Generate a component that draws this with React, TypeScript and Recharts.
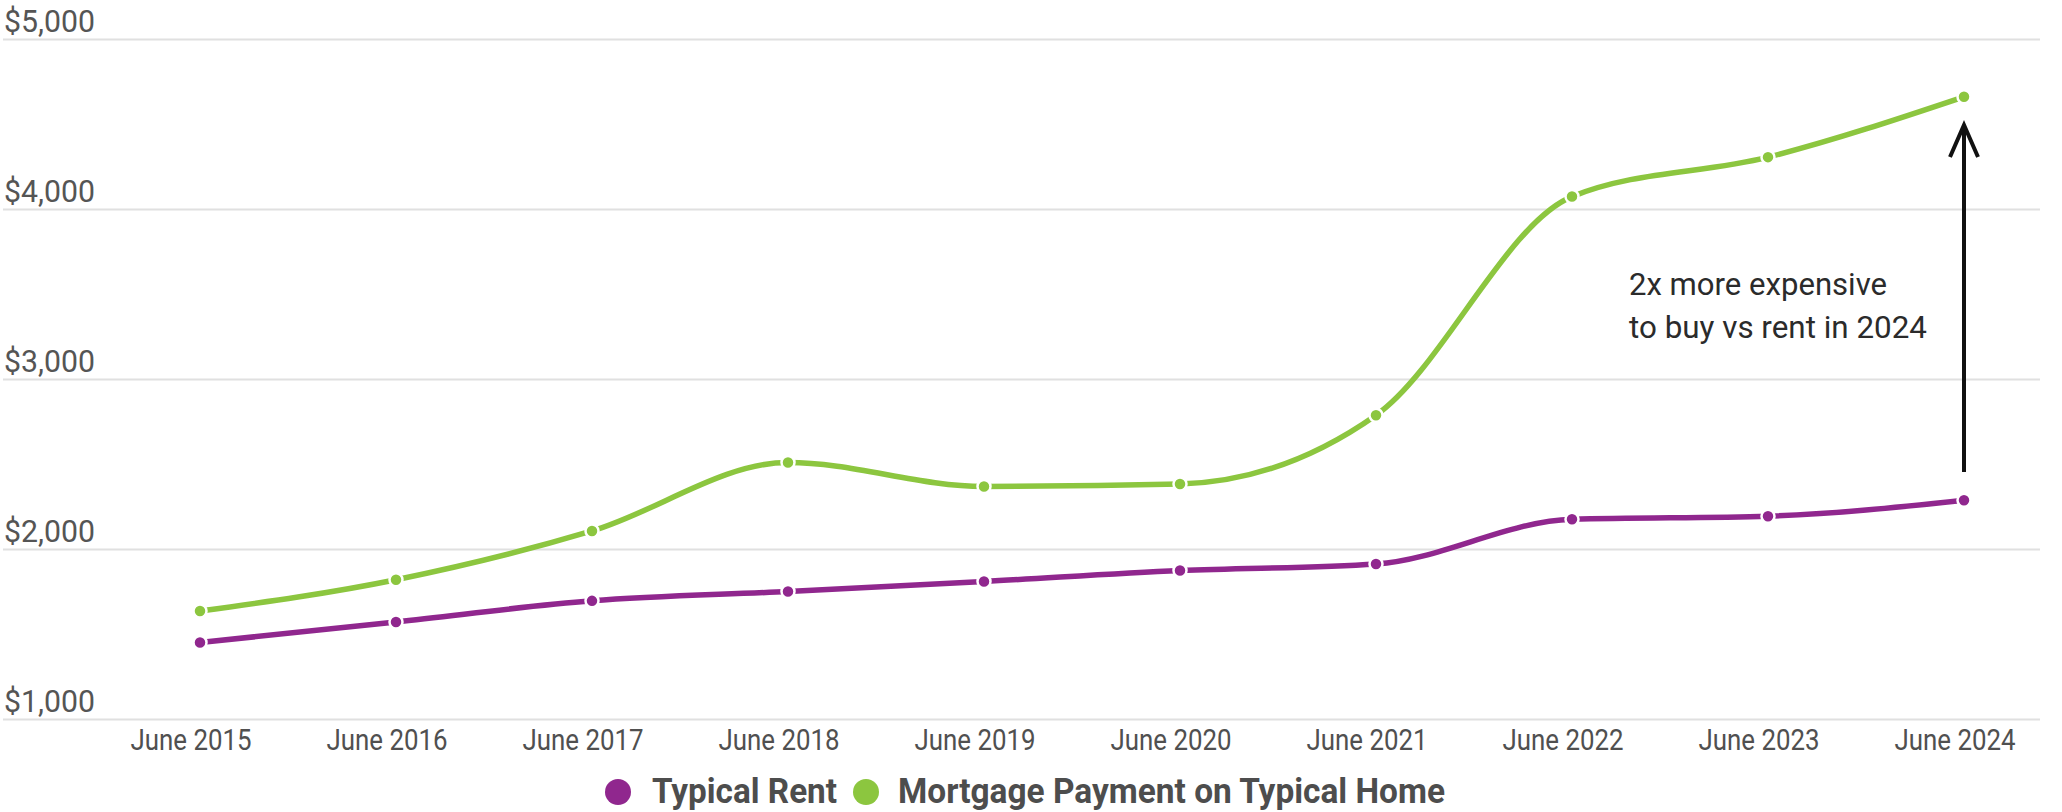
import React from 'react';
import { LineChart, Line, XAxis, YAxis, CartesianGrid, ReferenceLine } from 'recharts';

const months = ['June 2015', 'June 2016', 'June 2017', 'June 2018', 'June 2019', 'June 2020', 'June 2021', 'June 2022', 'June 2023', 'June 2024'];
const typicalRent = [1453, 1574, 1698, 1753, 1812, 1876, 1915, 2178, 2196, 2290];
const mortgagePayment = [1638, 1822, 2109, 2512, 2371, 2385, 2790, 4076, 4308, 4663];
const yTicks = [1000, 2000, 3000, 4000, 5000];
const seriesNames = ['Typical Rent', 'Mortgage Payment on Typical Home'];
const seriesColors = ['#90278E', '#8CC63F'];
const annotationLines = ['2x more expensive', 'to buy vs rent in 2024'];
const arrowMonth = 'June 2024';
const arrowFrom = 2456;
const arrowTo = 4497;

const data = months.map((m, i) => ({ month: m, rent: typicalRent[i], mortgage: mortgagePayment[i] }));

const FONT = 'Roboto, "Noto Sans", sans-serif';

const XTick = (props: any) => {
  const { x, y, payload } = props;
  return (
    <text x={x - 9} y={y + 30.5} textAnchor="middle" fontFamily={FONT} fontSize={29.5} fill="#505050"
      textLength={121} lengthAdjust="spacingAndGlyphs">
      {payload.value}
    </text>
  );
};

const YTick = (props: any) => {
  const { y, payload } = props;
  const label = '$' + Number(payload.value).toLocaleString('en-US');
  return (
    <text x={4} y={y - 7.5} textAnchor="start" fontFamily={FONT} fontSize={32} fill="#555555"
      textLength={91} lengthAdjust="spacingAndGlyphs">
      {label}
    </text>
  );
};

const ArrowShape = (props: any) => {
  const { x1, y1, x2, y2 } = props;
  return (
    <g>
      <line x1={x1} y1={y1} x2={x2} y2={y2 + 2} stroke="#111" strokeWidth={4} />
      <polyline points={`${x2 - 14},${y2 + 32} ${x2},${y2} ${x2 + 14},${y2 + 32}`} fill="none" stroke="#111" strokeWidth={4} />
      <text x={x2 - 335} y={y2 + 170} fontFamily={FONT} fontSize={31} fill="#2b2b2b" textLength={258} lengthAdjust="spacingAndGlyphs">
        {annotationLines[0]}
      </text>
      <text x={x2 - 335} y={y2 + 213} fontFamily={FONT} fontSize={31} fill="#2b2b2b" textLength={298} lengthAdjust="spacingAndGlyphs">
        {annotationLines[1]}
      </text>
    </g>
  );
};

const legendLayout = [
  { cx: 618, tx: 652, len: 185 },
  { cx: 866, tx: 898, len: 547 },
];

export default function App() {
  return (
    <div style={{ position: 'absolute', left: 0, top: 0, width: 2062, height: 812, background: '#fff' }}>
      <LineChart width={2062} height={812} data={data} margin={{ top: 39.5, right: 22, bottom: 62.5, left: 2 }}>
        <CartesianGrid vertical={false} stroke="#e0e0e0" strokeWidth={2} />
        <XAxis dataKey="month" height={30} axisLine={false} tickLine={false} tickSize={0} tickMargin={0}
          padding={{ left: 197, right: 76 }} tick={<XTick />} interval={0} />
        <YAxis domain={[1000, 5000]} ticks={yTicks} width={1} axisLine={false} tickLine={false} tickSize={0}
          tickMargin={0} tick={<YTick />} interval={0} />
        <ReferenceLine segment={[{ x: arrowMonth, y: arrowFrom }, { x: arrowMonth, y: arrowTo }]} shape={ArrowShape} />
        <Line type="monotone" dataKey="rent" name={seriesNames[0]} stroke={seriesColors[0]} strokeWidth={5.5}
          dot={{ r: 6.5, fill: seriesColors[0], stroke: '#fff', strokeWidth: 2.5 }} isAnimationActive={false} />
        <Line type="monotone" dataKey="mortgage" name={seriesNames[1]} stroke={seriesColors[1]} strokeWidth={5.5}
          dot={{ r: 6.5, fill: seriesColors[1], stroke: '#fff', strokeWidth: 2.5 }} isAnimationActive={false} />
      </LineChart>
      <svg width={2062} height={812} style={{ position: 'absolute', left: 0, top: 0, pointerEvents: 'none' }}>
        {seriesNames.map((name, i) => (
          <g key={name}>
            <circle cx={legendLayout[i].cx} cy={792} r={13} fill={seriesColors[i]} />
            <text x={legendLayout[i].tx} y={803} fontFamily={FONT} fontWeight={700} fontSize={35} fill="#4d4d4d"
              textLength={legendLayout[i].len} lengthAdjust="spacingAndGlyphs">
              {name}
            </text>
          </g>
        ))}
      </svg>
    </div>
  );
}
